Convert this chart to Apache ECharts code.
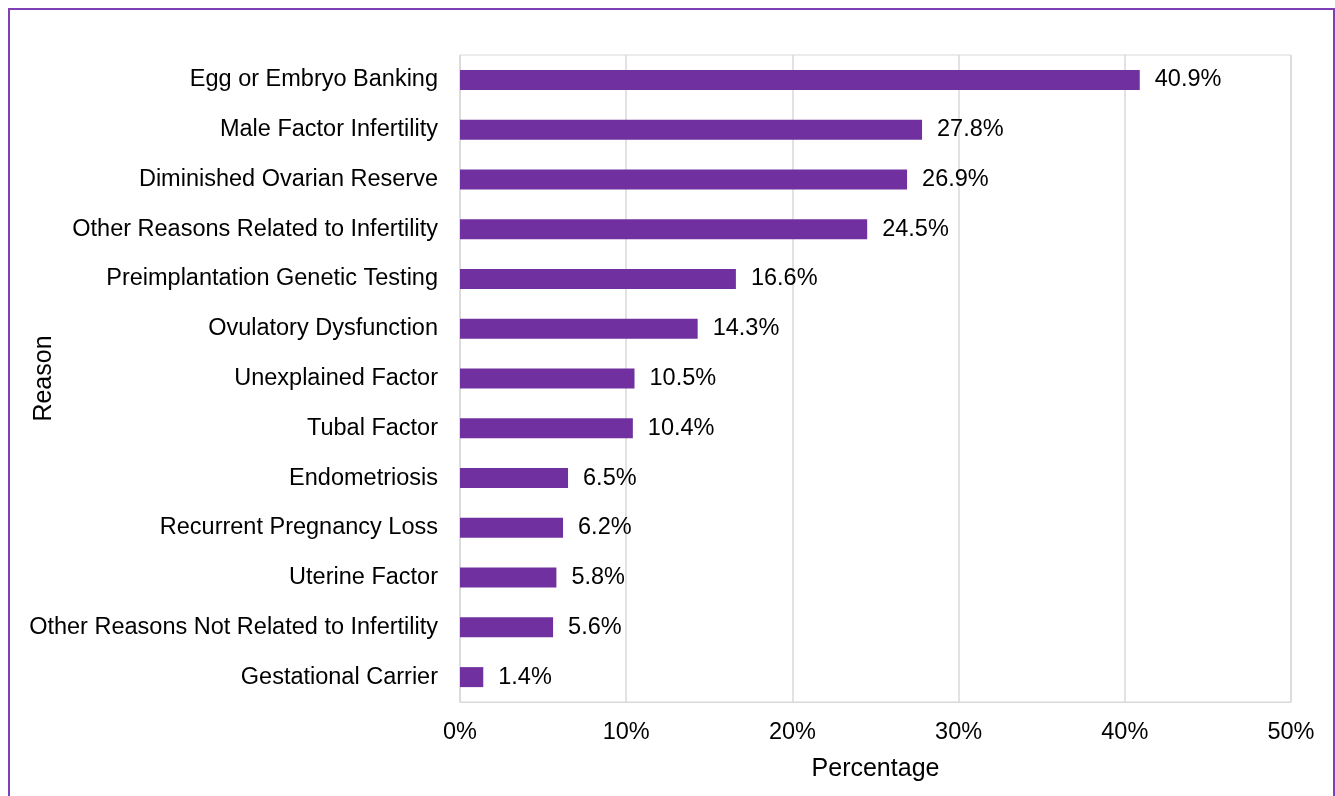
<!DOCTYPE html>
<html>
<head>
<meta charset="utf-8">
<script src="https://cdn.jsdelivr.net/npm/echarts@6/dist/echarts.min.js"></script>
<style>
  html, body { margin: 0; padding: 0; background: #fff; }
  #chart { width: 1335px; height: 796px; }
</style>
</head>
<body>
<div id="chart"></div>
<script>
// reasons, top to bottom
const reasons = [
  'Egg or Embryo Banking',
  'Male Factor Infertility',
  'Diminished Ovarian Reserve',
  'Other Reasons Related to Infertility',
  'Preimplantation Genetic Testing',
  'Ovulatory Dysfunction',
  'Unexplained Factor',
  'Tubal Factor',
  'Endometriosis',
  'Recurrent Pregnancy Loss',
  'Uterine Factor',
  'Other Reasons Not Related to Infertility',
  'Gestational Carrier'
];
const percentages = [40.9, 27.8, 26.9, 24.5, 16.6, 14.3, 10.5, 10.4, 6.5, 6.2, 5.8, 5.6, 1.4];
const tickValues = [0, 10, 20, 30, 40, 50];

const font = 'Liberation Sans, Arial, sans-serif';
const chart = echarts.init(document.getElementById('chart'));

chart.setOption({
  animation: false,
  graphic: [{
    type: 'rect',
    shape: { x: 9, y: 9, width: 1325, height: 800 },
    style: { fill: 'none', stroke: '#7F3FB5', lineWidth: 2 },
    silent: true
  }],
  grid: {
    left: 460, right: 44, top: 55, bottom: 94,
    containLabel: false,
    outerBoundsMode: 'none',
    show: true, borderColor: '#D9D9D9', borderWidth: 1
  },
  xAxis: {
    type: 'value',
    min: tickValues[0],
    max: tickValues[tickValues.length - 1],
    interval: 10,
    name: 'Percentage',
    nameLocation: 'middle',
    nameGap: 55,
    nameTextStyle: { color: '#000', fontSize: 25, fontFamily: font },
    axisLine: { show: true, lineStyle: { color: '#D9D9D9' } },
    axisTick: { show: false },
    axisLabel: { color: '#000', fontSize: 23.5, fontFamily: font, margin: 19, formatter: '{value}%' },
    splitLine: { show: true, lineStyle: { color: '#D9D9D9', width: 1.5 } }
  },
  yAxis: {
    type: 'category',
    data: reasons,
    inverse: true,
    name: 'Reason',
    nameLocation: 'middle',
    nameGap: 403,
    nameMoveOverlap: false,
    nameTextStyle: { color: '#000', fontSize: 25, fontFamily: font },
    axisLine: { show: true, lineStyle: { color: '#D9D9D9' } },
    axisTick: { show: false },
    axisLabel: { color: '#000', fontSize: 23.5, fontFamily: font, margin: 22, padding: [9, 0, 0, 0] }
  },
  series: [{
    type: 'bar',
    data: percentages,
    barWidth: 20,
    itemStyle: { color: '#7030A0' },
    label: {
      show: true,
      position: 'right',
      distance: 15,
      color: '#000',
      fontSize: 23.5,
      fontFamily: font,
      padding: [9, 0, 0, 0],
      formatter: p => p.value.toFixed(1) + '%'
    }
  }]
});
</script>
</body>
</html>
